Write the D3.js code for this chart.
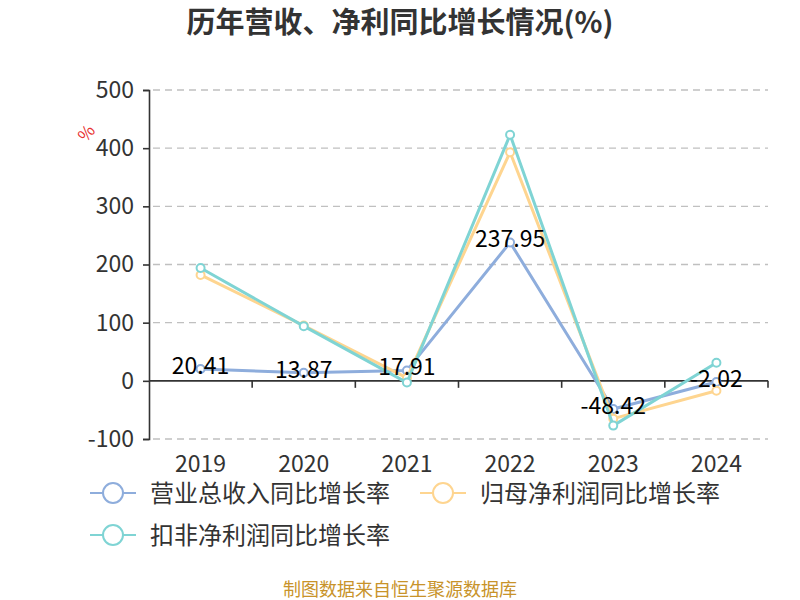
<!DOCTYPE html>
<head>
<meta charset="utf-8">
<style>
  body { margin: 0; background: #fff; }
  svg { display: block; font-family: "Noto Sans CJK SC", "Noto Sans", sans-serif; }
  .grid line { stroke: #c0c0c0; stroke-dasharray: 7,5; stroke-width: 1.3; }
  .lbl { font-size: 23px; fill: #000; }
  .tick-text { font-size: 23px; fill: #333; }
</style>
</head>
<body>
<script src="https://cdn.jsdelivr.net/npm/d3@7/dist/d3.min.js"></script>
<script>

var years = ["2019", "2020", "2021", "2022", "2023", "2024"];
var revenue = [20.41, 13.87, 17.91, 237.95, -48.42, -2.02];
var netProfit = [182, 95, 5, 393, -65, -17];
var deducted = [194, 94, -3, 423, -77, 31];
var seriesNames = ["营业总收入同比增长率", "归母净利润同比增长率", "扣非净利润同比增长率"];
var colors = ["#8eaddc", "#fed590", "#7fd4d4"];
var yTicks = [-100, 0, 100, 200, 300, 400, 500];

var width = 800, height = 600;
var plotL = 149, plotR = 768, plotT = 90, plotB = 439;

var svg = d3.select("body").append("svg")
    .attr("width", width)
    .attr("height", height);

var x = d3.scaleBand().domain(years).range([plotL, plotR]);
var y = d3.scaleLinear().domain([-100, 500]).range([plotB, plotT]);

// title
svg.append("text")
    .attr("x", 400).attr("y", 33)
    .attr("text-anchor", "middle")
    .style("font-size", "29px").style("font-weight", "bold").style("fill", "#333")
    .text("历年营收、净利同比增长情况(%)");

// grid
svg.append("g").attr("class", "grid")
  .selectAll("line").data(yTicks.filter(function(d) { return d !== 0; }))
  .enter().append("line")
    .attr("x1", plotL + 4).attr("x2", plotR)
    .attr("y1", function(d) { return y(d); })
    .attr("y2", function(d) { return y(d); });

// y axis
var yAxis = svg.append("g")
    .attr("transform", "translate(" + plotL + ",0)")
    .call(d3.axisLeft(y).tickValues(yTicks).tickSize(6).tickPadding(9)
      .tickFormat(function(d) { return String(d); }));
yAxis.selectAll("path, line").attr("stroke", "#333").attr("stroke-width", 1.6);
yAxis.selectAll("text").attr("class", "tick-text");
yAxis.attr("font-family", null).attr("font-size", null);

// x axis on zero
var bounds = years.map(function(d) { return x(d); }).concat([plotR]);
var xg = svg.append("g");
xg.append("line")
    .attr("x1", plotL).attr("x2", plotR)
    .attr("y1", y(0)).attr("y2", y(0))
    .attr("stroke", "#333").attr("stroke-width", 1.6);
xg.selectAll(".xt").data(bounds.slice(1)).enter().append("line")
    .attr("x1", function(d) { return d; }).attr("x2", function(d) { return d; })
    .attr("y1", y(0)).attr("y2", y(0) + 7)
    .attr("stroke", "#333").attr("stroke-width", 1.6);
xg.selectAll(".xl").data(years).enter().append("text")
    .attr("class", "tick-text")
    .attr("x", function(d) { return x(d) + x.bandwidth() / 2; })
    .attr("y", 472)
    .attr("text-anchor", "middle")
    .text(function(d) { return d; });

// unit
svg.append("text")
    .attr("transform", "translate(91,137) rotate(-50)")
    .attr("text-anchor", "middle")
    .style("font-size", "17px").style("fill", "#e83030")
    .text("%");

var line = d3.line()
    .x(function(d, i) { return x(years[i]) + x.bandwidth() / 2; })
    .y(function(d) { return y(d); });

var allSeries = [revenue, netProfit, deducted];
allSeries.forEach(function(s, k) {
  var g = svg.append("g");
  g.append("path")
      .attr("d", line(s))
      .attr("fill", "none")
      .attr("stroke", colors[k])
      .attr("stroke-width", 3)
      .attr("stroke-linejoin", "round");
  g.selectAll("circle").data(s).enter().append("circle")
      .attr("cx", function(d, i) { return x(years[i]) + x.bandwidth() / 2; })
      .attr("cy", function(d) { return y(d); })
      .attr("r", 4)
      .attr("fill", "#fff")
      .attr("stroke", colors[k])
      .attr("stroke-width", 2);
});

// labels for revenue
svg.append("g").selectAll("text").data(revenue).enter().append("text")
    .attr("class", "lbl")
    .attr("x", function(d, i) { return x(years[i]) + x.bandwidth() / 2; })
    .attr("y", function(d) { return y(d) + 5; })
    .attr("text-anchor", "middle")
    .text(function(d) { return d.toFixed(2); });

// legend
var legendPos = [[90, 493], [420, 493], [90, 535]];
seriesNames.forEach(function(name, k) {
  var p = legendPos[k];
  var g = svg.append("g").attr("transform", "translate(" + p[0] + "," + p[1] + ")");
  g.append("line").attr("x1", 0).attr("x2", 46).attr("y1", 0).attr("y2", 0)
      .attr("stroke", colors[k]).attr("stroke-width", 2);
  g.append("circle").attr("cx", 23).attr("cy", 0).attr("r", 10)
      .attr("fill", "#fff").attr("stroke", colors[k]).attr("stroke-width", 2);
  g.append("text").attr("x", 60).attr("y", 9)
      .style("font-size", "24px").style("fill", "#333")
      .text(name);
});

// source
svg.append("text")
    .attr("x", 400).attr("y", 596)
    .attr("text-anchor", "middle")
    .style("font-size", "18px").style("fill", "#c8932a")
    .text("制图数据来自恒生聚源数据库");

</script>
</body>
